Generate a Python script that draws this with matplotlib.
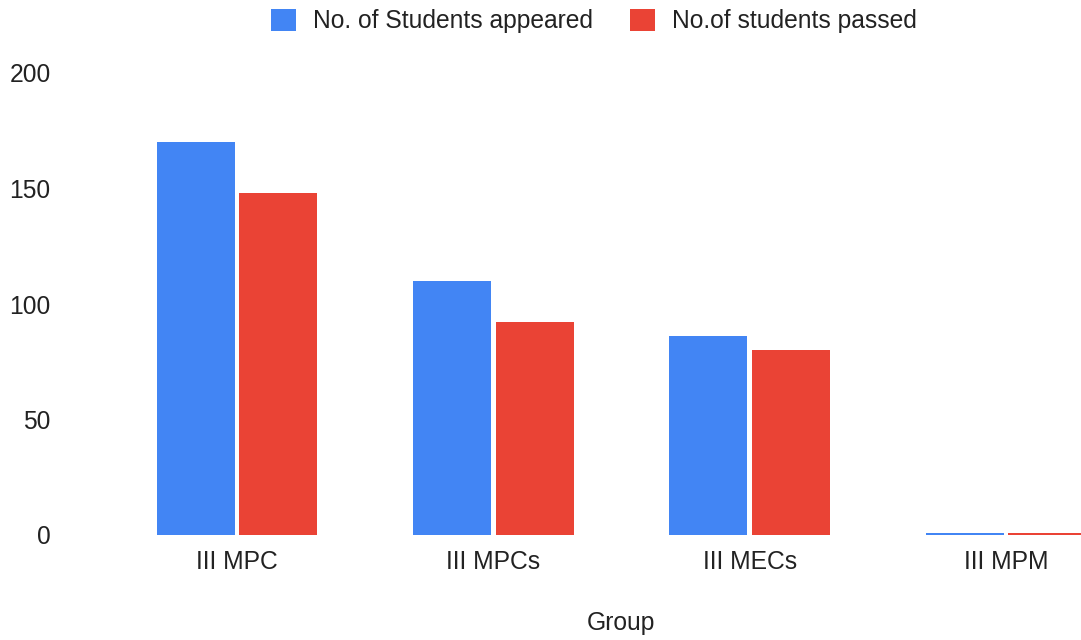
import matplotlib
matplotlib.use("Agg")
import matplotlib.pyplot as plt
import numpy as np

categories = ["III MPC", "III MPCs", "III MECs", "III MPM"]
appeared = [170, 110, 86, 1]
passed = [148, 92, 80, 1]
series_names = ["No. of Students appeared", "No.of students passed"]
yticks = [0, 50, 100, 150, 200]

plt.rcParams['font.family'] = ['Liberation Sans', 'DejaVu Sans']
W, H = 1081, 640
fig = plt.figure(figsize=(W / 100, H / 100), dpi=100)
left_px, right_px = 109, 1134
bottom_px, top_px = 535, 73
ax = fig.add_axes([left_px / W, (H - bottom_px) / H, (right_px - left_px) / W, (bottom_px - top_px) / H])

x = np.arange(len(categories))
bw = 0.305
off = 0.161
b1 = ax.bar(x - off, appeared, width=bw, color="#4285F4", label=series_names[0])
b2 = ax.bar(x + off, passed, width=bw, color="#EA4335", label=series_names[1])

fs = 17.7
ax.set_xlim(-0.5, len(categories) - 0.5)
ax.set_ylim(0, 200)
ax.set_yticks(yticks)
ax.set_yticklabels([str(t) for t in yticks])
ax.set_xticks(x)
ax.set_xticklabels(categories)
for s in ax.spines.values():
    s.set_visible(False)
ax.tick_params(axis='y', length=0, pad=42, labelsize=fs, labelcolor="#222222")
ax.tick_params(axis='x', length=0, pad=11, labelsize=fs, labelcolor="#222222")
for lbl in ax.get_yticklabels():
    lbl.set_horizontalalignment('right')

fig.text(621 / W, 1 - 623 / H, "Group", ha='center', va='center', fontsize=fs, color="#222222")

fig.legend(handles=[b1, b2], labels=series_names, loc='center', ncol=2,
           bbox_to_anchor=(594 / W, 1 - 21 / H), frameon=False, fontsize=fs,
           handlelength=1.0, handleheight=1.0, handletextpad=0.7,
           columnspacing=1.5, labelcolor="#222222")

fig.savefig("out.png", dpi=100)
